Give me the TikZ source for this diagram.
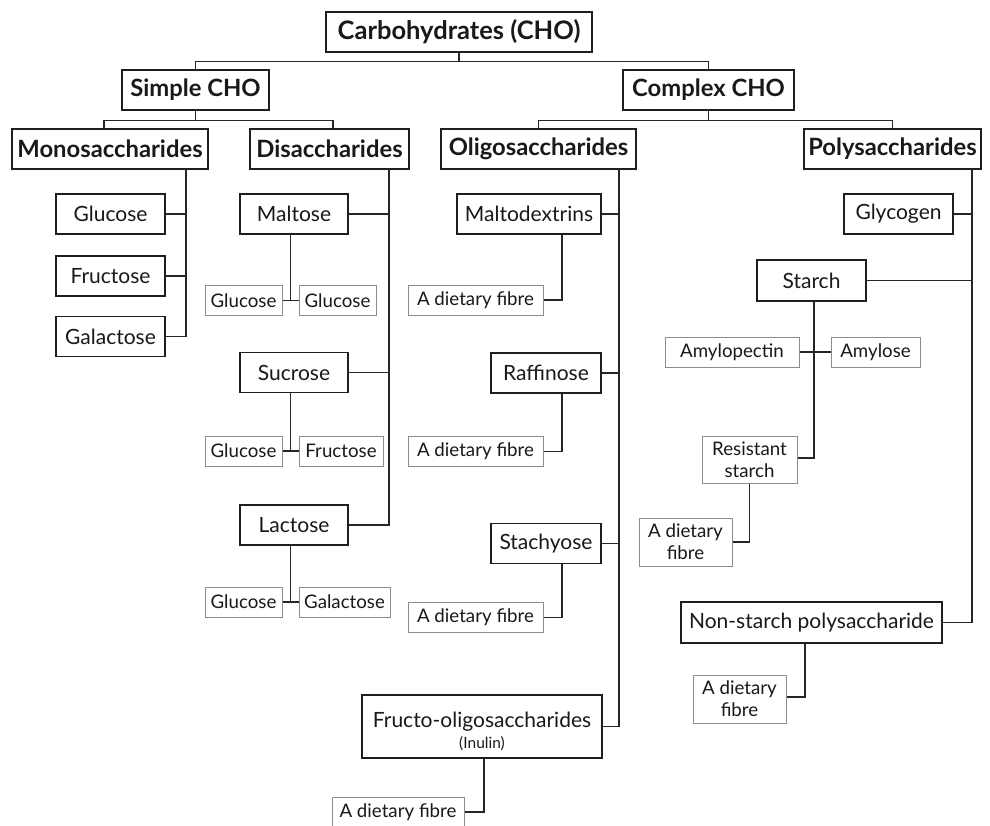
\documentclass[tikz,border=0pt]{standalone}
\usepackage{fontspec}
\setmainfont{Lato}
\usetikzlibrary{calc}
\begin{document}
\begin{tikzpicture}[x=1pt,y=-1pt,
  box/.style={draw=black!88, line width=1.2pt, inner sep=0pt, align=center,
    font=\fontsize{21}{23}\selectfont, text=black!90},
  head/.style={box, font=\fontsize{23.8}{26}\bfseries\selectfont},
  leaf/.style={draw=black!45, line width=1pt, inner sep=0pt, align=center,
    font=\fontsize{18.7}{22}\selectfont, text=black!90, minimum height=30pt},
  conn/.style={draw=black!85, line width=1.2pt}
]
\useasboundingbox (0,0) rectangle (990,825);
\clip (0,0) rectangle (990,825);
\fill[white] (0,0) rectangle (990,825);

% top levels
\node[head, minimum width=266pt, minimum height=40pt, font=\fontsize{25.5}{28}\bfseries\selectfont] (root) at (459,32) {Carbohydrates (CHO)};
\node[head, minimum width=147pt, minimum height=40pt] (simple) at (195.5,90) {Simple CHO};
\node[head, minimum width=171pt, minimum height=40pt] (complex) at (708.5,90) {Complex CHO};
\node[head, minimum width=196pt, minimum height=40pt] (mono) at (110,149) {Monosaccharides};
\node[head, minimum width=159pt, minimum height=40pt] (di) at (329.5,149) {Disaccharides};
\node[head, minimum width=195pt, minimum height=40pt] (oligo) at (538.5,149) {Oligosaccharides};
\node[head, minimum width=177pt, minimum height=40pt] (poly) at (892.5,149) {Polysaccharides};

\draw[conn] (root.south) -- ++(0,9) -| (simple.north);
\draw[conn] (root.south) -- ++(0,9) -| (complex.north);
\draw[conn] (simple.south) -- ++(0,10) -| ([xshift=-6]mono.north);
\draw[conn] (simple.south) -- ++(0,10) -| ([xshift=3.5]di.north);
\draw[conn] (complex.south) -- ++(0,10) -| (oligo.north);
\draw[conn] (complex.south) -- ++(0,10) -| (poly.north);

% monosaccharides
\node[box, minimum width=109pt, minimum height=40pt] (mglu) at (110.5,214) {Glucose};
\node[box, minimum width=109pt, minimum height=40pt] (mfru) at (110.5,276) {Fructose};
\node[box, minimum width=109pt, minimum height=40pt] (mgal) at (110.5,336.5) {Galactose};
\coordinate (mv) at (186,169);
\draw[conn] (mv) |- (mgal.east);
\draw[conn] (mglu.east) -- (mglu.east -| mv);
\draw[conn] (mfru.east) -- (mfru.east -| mv);

% disaccharides
\node[box, minimum width=108pt, minimum height=40pt] (malt) at (294,214) {Maltose};
\node[box, minimum width=108pt, minimum height=40pt] (sucr) at (294,372.5) {Sucrose};
\node[box, minimum width=108pt, minimum height=40pt] (lact) at (294,525) {Lactose};
\coordinate (dv) at (389,169);
\draw[conn] (dv) |- (lact.east);
\draw[conn] (malt.east) -- (malt.east -| dv);
\draw[conn] (sucr.east) -- (sucr.east -| dv);

\node[leaf, minimum width=77pt] (ma1) at (243.5,300.5) {Glucose};
\node[leaf, minimum width=77pt] (ma2) at (337.5,300.5) {Glucose};
\node[leaf, minimum width=77pt] (su1) at (243.5,451) {Glucose};
\node[leaf, minimum width=84pt] (su2) at (341,451) {Fructose};
\node[leaf, minimum width=77pt] (la1) at (243.5,602) {Glucose};
\node[leaf, minimum width=91pt] (la2) at (344.5,602) {Galactose};
\coordinate (jm) at ($(ma1.east)!0.5!(ma2.west)$);
\coordinate (js) at ($(su1.east)!0.5!(su2.west)$);
\coordinate (jl) at ($(la1.east)!0.5!(la2.west)$);
\draw[conn] (ma1.east) -- (ma2.west);
\draw[conn] (malt.south -| jm) -- (jm);
\draw[conn] (su1.east) -- (su2.west);
\draw[conn] (sucr.south -| js) -- (js);
\draw[conn] (la1.east) -- (la2.west);
\draw[conn] (lact.south -| jl) -- (jl);

% oligosaccharides
\node[box, minimum width=144pt, minimum height=40pt] (mdx) at (529,214) {Maltodextrins};
\node[box, minimum width=110pt, minimum height=40pt] (raf) at (546,373) {Raffinose};
\node[box, minimum width=110pt, minimum height=40pt] (sta) at (546,543.5) {Stachyose};
\node[box, minimum width=240pt, minimum height=63pt,
  label={[inner sep=0pt, align=center, yshift=-5pt, font=\fontsize{21}{21}\selectfont, text=black!90]center:Fructo-oligosaccharides\\{\fontsize{15.5}{17}\selectfont (Inulin)}}] (fos) at (482,726.5) {};
\coordinate (ov) at (619,169);
\draw[conn] (ov) |- (fos.east);
\draw[conn] (mdx.east) -- (mdx.east -| ov);
\draw[conn] (raf.east) -- (raf.east -| ov);
\draw[conn] (sta.east) -- (sta.east -| ov);

\node[leaf, minimum width=135pt] (df1) at (475.5,300) {A dietary fibre};
\node[leaf, minimum width=135pt] (df2) at (475.5,451.5) {A dietary fibre};
\node[leaf, minimum width=135pt] (df3) at (475.5,617.5) {A dietary fibre};
\node[leaf, minimum width=132pt] (df4) at (398,812) {A dietary fibre};
\draw[conn] ([xshift=33]mdx.south) |- (df1.east);
\draw[conn] ([xshift=16]raf.south) |- (df2.east);
\draw[conn] ([xshift=16]sta.south) |- (df3.east);
\draw[conn] ([xshift=2]fos.south) |- (df4.east);

% polysaccharides
\node[box, minimum width=109pt, minimum height=40pt] (gly) at (898.5,214) {Glycogen};
\node[box, minimum width=109pt, minimum height=41pt] (star) at (811.5,280.5) {Starch};
\node[box, minimum width=261pt, minimum height=41pt] (nsp) at (811.5,622.5) {Non-starch polysaccharide};
\coordinate (pv) at (972,169);
\draw[conn] (pv) |- (nsp.east);
\draw[conn] (gly.east) -- (gly.east -| pv);
\draw[conn] (star.east) -- (star.east -| pv);

\node[leaf, minimum width=134pt] (amp) at (732,352) {Amylopectin};
\node[leaf, minimum width=89pt] (aml) at (875.5,352) {Amylose};
\node[leaf, minimum width=95pt, minimum height=47pt] (rs) at (749.5,459.5) {Resistant\\starch};
\node[leaf, minimum width=93pt, minimum height=48pt] (df5) at (685.5,542) {A dietary\\fibre};
\node[leaf, minimum width=93pt, minimum height=48pt] (df6) at (739.5,699) {A dietary\\fibre};
\draw[conn] (amp.east) -- (aml.west);
\draw[conn] ([xshift=2.5]star.south) |- ([yshift=1.5]rs.east);
\draw[conn] (rs.south) |- (df5.east);
\draw[conn] ([xshift=-6.5]nsp.south) |- ([yshift=2]df6.east);
\end{tikzpicture}
\end{document}
